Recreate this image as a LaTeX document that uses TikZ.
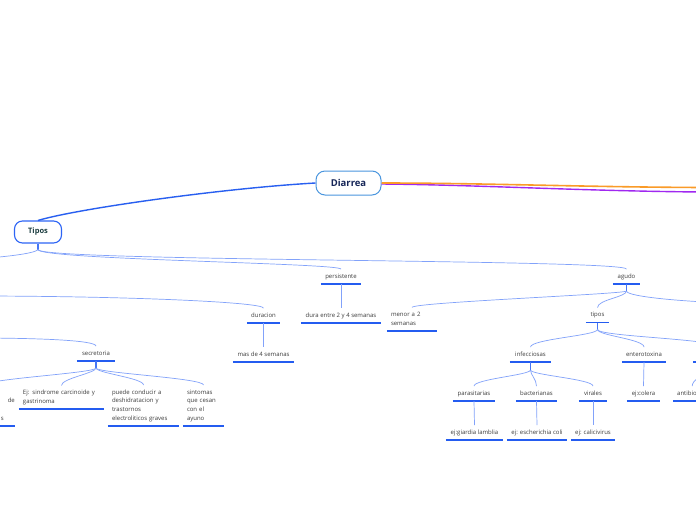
\documentclass[tikz,border=0pt]{standalone}
\usepackage{fontspec}
\setmainfont{Open Sans}
\usetikzlibrary{calc}
\definecolor{ulblue}{RGB}{36,92,240}
\definecolor{connblue}{RGB}{130,162,250}
\definecolor{stubblue}{RGB}{70,118,245}
\definecolor{mainblue}{RGB}{40,95,240}
\definecolor{skyborder}{RGB}{74,150,222}
\definecolor{tiposborder}{RGB}{45,100,245}
\definecolor{navytext}{RGB}{22,38,88}
\definecolor{tealtext}{RGB}{28,62,64}
\definecolor{labelc}{RGB}{60,60,60}
\definecolor{orangeln}{RGB}{250,155,40}
\definecolor{purpleln}{RGB}{160,40,240}
\begin{document}
\begin{tikzpicture}[x=1pt,y=-1pt,
  uline/.style={draw=ulblue,line width=1.3pt},
  leaf/.style={font=\fontsize{6}{8.7}\selectfont, text=labelc, inner xsep=4pt, inner ysep=2.9pt,
    anchor=south, execute at begin node=\strut, execute at end node=\strut,
    append after command={(\tikzlastnode.south west) edge[uline] (\tikzlastnode.south east)}},
  conn/.style={draw=connblue,line width=0.7pt},
  stub/.style={draw=stubblue,line width=1.4pt},
  mainln/.style={draw=mainblue,line width=1.4pt},
  orangeline/.style={draw=orangeln,line width=1.6pt},
  purpleline/.style={draw=purpleln,line width=1.4pt},
  rootbox/.style={draw=skyborder,line width=1pt,fill=white,rounded corners=9pt,
    minimum width=65pt,minimum height=24pt,font=\fontsize{9.5}{11}\selectfont\bfseries,text=navytext},
  mainbox/.style={draw=tiposborder,line width=1.1pt,fill=white,rounded corners=8pt,
    minimum width=47pt,minimum height=22pt,font=\fontsize{7.5}{9}\selectfont\bfseries,text=tealtext}
]
\useasboundingbox (0,0) rectangle (696,520);
\fill[white] (0,0) rectangle (696,520);

% main nodes
\node[rootbox] (diarrea) at (348.5,183) {Diarrea};
\node[mainbox] (tipos) at (38,232) {Tipos};

% leaves
\node[leaf, minimum width=40pt] (persistente) at (341,284) {persistente};
\node[leaf, minimum width=80pt] (dura) at (341,323) {dura entre 2 y 4 semanas};
\node[leaf, minimum width=33pt] (duracion) at (263.5,323) {duracion};
\node[leaf, minimum width=61pt] (mas4) at (263.5,362) {mas de 4 semanas};
\node[leaf, minimum width=27pt] (agudo) at (626.5,284) {agudo};
\node[leaf, text width=42pt, align=left] (menor) at (412,331) {menor a 2\\semanas};
\node[leaf, minimum width=23pt] (tiposb) at (597.5,322.5) {tipos};
\node[leaf, minimum width=41pt] (infecciosas) at (530.5,362) {infecciosas};
\node[leaf, minimum width=44pt] (enterotoxina) at (644,362) {enterotoxina};
\node[leaf, minimum width=33pt] (ejcolera) at (643.5,401) {ej:colera};
\node[leaf, minimum width=42pt] (parasitarias) at (474,401) {parasitarias};
\node[leaf, minimum width=41pt] (bacterianas) at (536.5,401) {bacterianas};
\node[leaf, minimum width=28pt] (virales) at (593,401) {virales};
\node[leaf, minimum width=57pt] (giardia) at (474.5,440) {ej:giardia lamblia};
\node[leaf, minimum width=60pt] (escherichia) at (537,440) {ej: escherichia coli};
\node[leaf, minimum width=44pt] (calicivirus) at (593,440) {ej: calicivirus};
\node[leaf, anchor=south west, text width=30pt, align=left] (antibio) at (673,401) {antibio};
\node[leaf, minimum width=38pt] (secretoria) at (96,361) {secretoria};
\node[leaf, text width=77pt, align=left] (ejsind) at (61.5,409) {Ej: sindrome carcinoide y\\gastrinoma};
\node[leaf, text width=63pt, align=left] (puede) at (143.5,426) {puede conducir a\\deshidratacion y\\trastornos\\electroliticos graves};
\node[leaf, text width=33pt, align=left] (sintomas) at (203.5,426) {sintomas\\que cesan\\con el\\ayuno};
\node[leaf, anchor=south east, inner xsep=0pt, text width=60pt, align=right] (cortado) at (15,426) {\mbox{}\\de\hspace*{7pt}\\\mbox{}\\s\hspace*{11pt}};

% top level connectors
\coordinate (oR) at (702,187.5);
\coordinate (pR) at (702,192);
\draw[purpleline] ($(diarrea.east)+(0,1)$) .. controls +(100,1) and +(-120,-1) .. (pR);
\draw[orangeline] (diarrea.east) .. controls +(100,0) and +(-120,-0.5) .. (oR);
\draw[mainln] (diarrea.west) .. controls +(-90,5) and +(40,-12) .. (tipos.north);

% Tipos
\coordinate (tS) at ($(tipos.south)+(0,6)$);
\draw[stub] (tipos.south) -- (tS);
\coordinate (offA) at (-25,259);
\draw[conn] (tS) .. controls +(-4,5) and +(15,-1) .. (offA);
\draw[conn] (tS) .. controls +(0,10) and +(0,-6) .. (persistente.north);
\draw[conn] (tS) .. controls +(0,12) and +(0,-10) .. (agudo.north);

% off-screen parents on the left
\coordinate (offB) at (-25,296);
\coordinate (offC) at (-25,338);
\draw[conn] (offB) .. controls +(150,0) and +(0,-6) .. (duracion.north);
\draw[conn] (offC) .. controls +(60,0) and +(0,-6) .. (secretoria.north);

% vertical connectors
\draw[conn] (persistente.south) -- (dura.north);
\draw[conn] (duracion.south) -- (mas4.north);
\draw[conn] (enterotoxina.south) -- (ejcolera.north);
\draw[conn] (parasitarias.south) -- (giardia.north);
\draw[conn] (bacterianas.south) -- (escherichia.north);
\draw[conn] (virales.south) -- (calicivirus.north);

% agudo
\coordinate (aS) at ($(agudo.south)+(0,7)$);
\draw[stub] (agudo.south) -- (aS);
\coordinate (offD) at (730,303);
\draw[conn] (aS) .. controls +(0,3) and +(0,-5) .. (menor.north);
\draw[conn] (aS) .. controls +(0,6) and +(0,-8) .. (tiposb.north);
\draw[conn] (aS) .. controls +(0,6) and +(-40,-1) .. (offD);

% tipos (agudo)
\coordinate (bS) at ($(tiposb.south)+(0,7)$);
\draw[stub] (tiposb.south) -- (bS);
\coordinate (offE) at (718,347);
\draw[conn] (bS) .. controls +(0,6) and +(0,-8) .. (infecciosas.north);
\draw[conn] (bS) .. controls +(0,6) and +(0,-8) .. (enterotoxina.north);
\draw[conn] (bS) .. controls +(0,7) and +(0,-8) .. (offE);
\coordinate (ulA) at (693,362);
\coordinate (ulB) at (740,362);
\draw[uline] (ulA) -- (ulB);
\coordinate (offF) at (712,370);
\draw[conn] (offF) .. controls +(-10,5) and +(0,-6) .. (antibio.north);

% infecciosas
\coordinate (iS) at ($(infecciosas.south)+(0,8)$);
\draw[stub] (infecciosas.south) -- (iS);
\draw[conn] (iS) .. controls +(0,5) and +(0,-7) .. (parasitarias.north);
\draw[conn] (iS) .. controls +(0,5) and +(0,-7) .. (bacterianas.north);
\draw[conn] (iS) .. controls +(0,5) and +(0,-7) .. (virales.north);

% secretoria
\coordinate (sS) at ($(secretoria.south)+(0,7)$);
\draw[stub] (secretoria.south) -- (sS);
\draw[conn] (sS) .. controls +(0,5) and +(0,-6) .. (cortado.north);
\draw[conn] (sS) .. controls +(0,5) and +(0,-7) .. (ejsind.north);
\draw[conn] (sS) .. controls +(0,5) and +(0,-7) .. (puede.north);
\draw[conn] (sS) .. controls +(0,5) and +(0,-7) .. (sintomas.north);
\end{tikzpicture}
\end{document}
